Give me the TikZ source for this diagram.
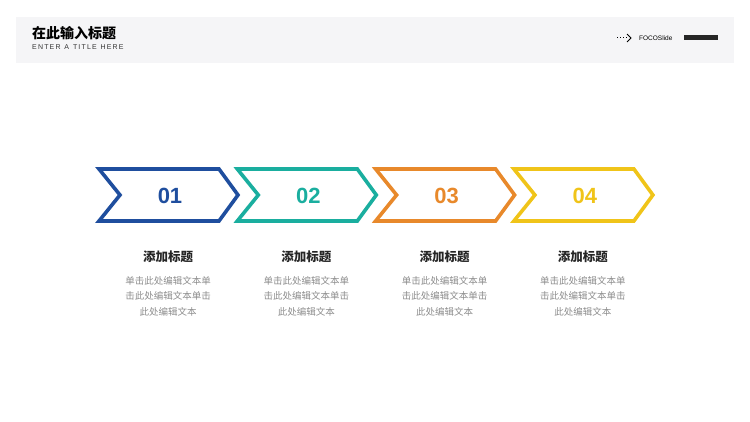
\documentclass[tikz,border=0pt]{standalone}
\usepackage{fontspec}
\setmainfont{Noto Sans CJK SC}
\newfontfamily\latinf{Liberation Sans}
\definecolor{cA}{HTML}{1F4E9E}
\definecolor{cB}{HTML}{1AAE9F}
\definecolor{cC}{HTML}{E8892B}
\definecolor{cD}{HTML}{F0C419}
\definecolor{band}{HTML}{F5F5F7}
\begin{document}
\begin{tikzpicture}[x=1pt,y=-1pt,
  chev/.style={line width=3.6pt,line join=miter},
  numtxt/.style={font=\latinf\bfseries\fontsize{22}{24}\selectfont},
  head/.style={font=\bfseries\fontsize{12.5}{14}\selectfont,text=black!85},
  body/.style={font=\fontsize{9.5}{15.5}\selectfont,text=black!45,align=center}]
\useasboundingbox (0,0) rectangle (750,422);
\fill[band] (16,17) rectangle (734,63);
\node[anchor=west,font=\bfseries\fontsize{14}{16}\selectfont,inner sep=0] (t) at (32,33) {在此输入标题};
\node[anchor=west,font=\latinf\fontsize{7}{8}\selectfont,inner sep=0,text=black!80] (st) at (32,47) {E\,N\,T\,E\,R\ \ A\ \ T\,I\,T\,L\,E\ \ H\,E\,R\,E};
\coordinate (a1) at (617,38); \coordinate (a2) at (631,38);
\draw[dotted,line width=1pt] (a1) -- (627,38);
\draw[line width=0.8pt] (627,34) -- (a2) -- (627,42);
\node[anchor=west,font=\latinf\fontsize{6.5}{8}\selectfont,inner sep=0] (fs) at (639,38) {FOCOSlide};
\fill[black!85] (684,35.5) rectangle (718,40.5);
\foreach \i/\c/\n in {0/cA/01,1/cB/02,2/cC/03,3/cD/04}{
  \begin{scope}[xshift=\i*138.3]
  \draw[chev,\c] (99,169) -- (219,169) -- (238,195) -- (219,221) -- (99,221) -- (120,195) -- cycle;
  \node[numtxt,text=\c] (n\i) at (170,196) {\n};
  \node[head] (h\i) at (168,257) {添加标题};
  \node[body] (b\i) at (168,296) {单击此处编辑文本单\\击此处编辑文本单击\\此处编辑文本};
  \end{scope}}
\end{tikzpicture}
\end{document}
